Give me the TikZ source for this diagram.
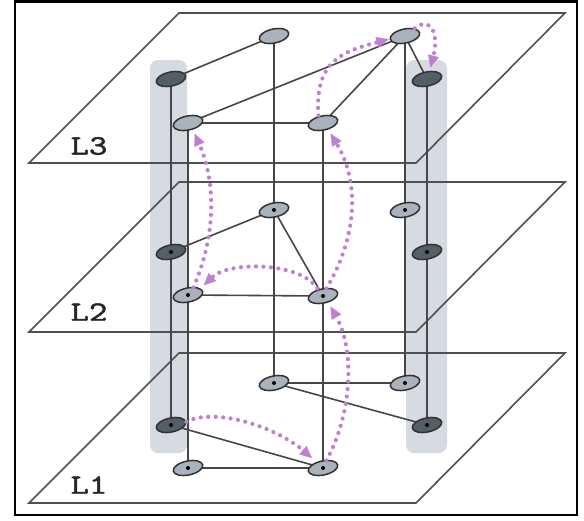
\documentclass[tikz,border=0pt]{standalone}
\usepackage{fontspec}
\usepackage{graphicx}
\newfontfamily\lblfont{lmmono10-regular.otf}[FakeBold=1.5]
\usetikzlibrary{shapes.geometric,arrows.meta,calc}
\definecolor{purp}{RGB}{192,128,210}
\definecolor{bandcol}{RGB}{214,219,225}
\definecolor{lightfill}{RGB}{170,179,187}
\definecolor{darkfill}{RGB}{84,94,101}
\definecolor{edgecol}{RGB}{50,50,50}
\definecolor{linecol}{RGB}{70,70,70}
\definecolor{planecol}{RGB}{80,80,80}
\pgfdeclarelayer{bg}
\pgfdeclarelayer{mid}
\pgfsetlayers{bg,mid,main}
\begin{document}
\begin{tikzpicture}[x=1pt,y=-1pt,
  basenode/.style={ellipse, draw=edgecol, line width=1.5pt, minimum width=30pt, minimum height=14pt, inner sep=0pt, rotate=12},
  lightnode/.style={basenode, fill=lightfill},
  darknode/.style={basenode, fill=darkfill},
  link/.style={draw=linecol, line width=1.6pt},
  plane/.style={draw=planecol, line width=1.6pt},
  band/.style={fill=bandcol, rounded corners=8pt},
  hop/.style={draw=purp, line width=4.2pt, line cap=round, dash pattern=on 0pt off 7.5pt,
    -{Triangle[length=12pt,width=11pt,line width=0.1pt]}},
  lbl/.style={font=\lblfont\fontsize{28}{28}\selectfont, text=black!85, inner sep=0pt}
]
\useasboundingbox (0,0) rectangle (584,520);

% background and bands
\begin{pgfonlayer}{bg}
\fill[white] (0,0) rectangle (584,520);
\path[band] (150,60) rectangle (187,453);
\path[band] (406,60) rectangle (447,453);
\end{pgfonlayer}

% planes
\begin{pgfonlayer}{mid}
\foreach \yb in {163,332,503}{
  \draw[plane] (29,\yb) -- (416,\yb) -- (565,\yb-150) -- (179,\yb-150) -- cycle;
}
\end{pgfonlayer}

% nodes L3
\node[lightnode] (A3) at (274,36) {};
\node[darknode]  (B3) at (171,79) {};
\node[lightnode] (C3) at (188,123) {};
\node[lightnode] (D3) at (405,36) {};
\node[darknode]  (E3) at (427,79) {};
\node[lightnode] (F3) at (323,123) {};
% nodes L2
\node[lightnode] (A2) at (274,210) {};
\node[darknode]  (B2) at (171,252) {};
\node[lightnode] (C2) at (188,295) {};
\node[lightnode] (D2) at (405,210) {};
\node[darknode]  (E2) at (427,252) {};
\node[lightnode] (F2) at (323,296) {};
% nodes L1
\node[lightnode] (A1) at (274,383) {};
\node[darknode]  (B1) at (171,425) {};
\node[lightnode] (C1) at (188,468) {};
\node[lightnode] (D1) at (405,383) {};
\node[darknode]  (E1) at (427,425) {};
\node[lightnode] (F1) at (323,468) {};

\foreach \n in {A2,B2,C2,D2,E2,F2,A1,B1,C1,D1,E1,F1}{
  \fill[black] (\n.center) circle[radius=2pt];
}

% links
\begin{pgfonlayer}{mid}
\foreach \c in {A,B,C,D,E,F}{
  \draw[link] (\c3.center) -- (\c1.center);
}
\draw[link] (B3.center) -- (A3.center);
\draw[link] (C3.center) -- (D3.center);
\draw[link] (C3.center) -- (F3.center);
\draw[link] (F3.center) -- (D3.center);
\draw[link] (D3.center) -- (E3.center);
\draw[link] (B2.center) -- (A2.center);
\draw[link] (A2.center) -- (F2.center);
\draw[link] (C2.center) -- (F2.center);
\draw[link] (A1.center) -- (D1.center);
\draw[link] (A1.center) -- (E1.center);
\draw[link] (B1.center) -- (F1.center);
\draw[link] (C1.center) -- (F1.center);
\end{pgfonlayer}

% labels
\node[lbl] (L3) at (89,146) {\scalebox{1.25}[1]{L3}};
\node[lbl] (L2) at (89,312) {\scalebox{1.25}[1]{L2}};
\node[lbl] (L1) at (89,485) {\scalebox{1.25}[1]{L1}};

% hops
\draw[hop] ($(F3.north)+(-3,0)$) .. controls +(-4,-55) and +(-45,12) .. ($(D3.west)+(-1,0)$);
\draw[hop] (D3.north east) .. controls +(18,-14) and +(8,-30) .. ($(E3.north)+(5,-4)$);
\draw[hop] ($(C2.north)+(7,0)$) .. controls +(22,-50) and +(22,50) .. ($(C3.south)+(5,3)$);
\draw[hop] ($(F2.north)+(5,0)$) .. controls +(30,-50) and +(30,50) .. ($(F3.south)+(6,3)$);
\draw[hop] ($(F2.north)+(-4,0)$) .. controls +(-18,-27) and +(25,-24) .. ($(C2.north east)+(6,-2)$);
\draw[hop] (B1.east) .. controls +(30,-15) and +(-35,-30) .. ($(F1.north west)+(1,-7)$);
\draw[hop] ($(F1.north)+(5,0)$) .. controls +(25,-45) and +(25,45) .. ($(F2.south)+(6,3)$);

% frame
\draw[black, line width=2.5pt] (15,1.5) rectangle (577,515);
\end{tikzpicture}
\end{document}
